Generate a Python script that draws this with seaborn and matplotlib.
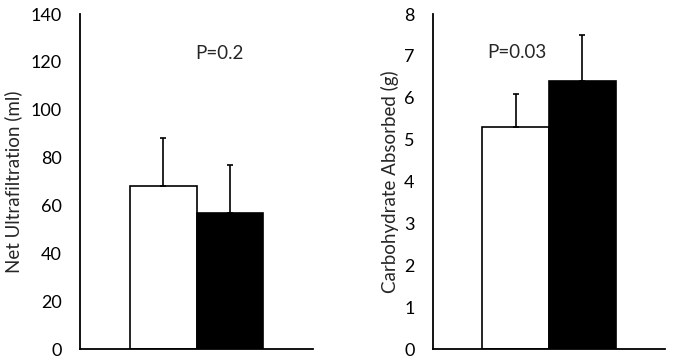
import matplotlib
matplotlib.use('Agg')
import matplotlib.pyplot as plt
import seaborn as sns
import pandas as pd

groups = ['Control', 'Treatment']
bar_colors = ['white', 'black']

uf_means = [68, 57]
uf_errs = [20, 20]

cho_means = [5.3, 6.4]
cho_errs = [0.8, 1.1]

sns.set_style('white')
plt.rcParams['font.family'] = ['Lato', 'DejaVu Sans']
plt.rcParams['font.size'] = 13


def panel(ax, means, errs, ylabel, ymax, ystep, ptext, px, py, label_x):
    df = pd.DataFrame({'cat': [''] * len(groups), 'group': groups, 'value': means})
    sns.barplot(data=df, x='cat', y='value', hue='group', palette=bar_colors,
                width=0.575, edgecolor='black', linewidth=1.2, errorbar=None,
                legend=False, ax=ax)
    bars = sorted(ax.patches, key=lambda p: p.get_x())
    xs = [b.get_x() + b.get_width() / 2 for b in bars]
    ax.errorbar(xs, means, yerr=[[0] * len(errs), errs], fmt='none',
                ecolor='black', elinewidth=1.2, capsize=2.5, capthick=1.2)
    ax.set_xlim(-0.5, 0.5)
    ax.set_ylim(0, ymax)
    ax.set_yticks([i * ystep for i in range(int(round(ymax / ystep)) + 1)])
    ax.set_xticks([-0.5, 0.5])
    ax.set_xticklabels(['', ''])
    ax.set_xlabel('')
    ax.set_ylabel(ylabel, fontsize=13.5)
    ax.yaxis.set_label_coords(label_x, 0.5)
    ax.tick_params(axis='both', direction='in', length=5, width=1.2, colors='black')
    ax.tick_params(axis='y', labelsize=13, pad=13.3)
    for s in ['top', 'right']:
        ax.spines[s].set_visible(False)
    for s in ['left', 'bottom']:
        ax.spines[s].set_linewidth(1.3)
        ax.spines[s].set_color('black')
    ax.text(px, py, ptext, ha='center', va='center', fontsize=13.5)


fig = plt.figure(figsize=(6.74, 3.62), dpi=100)
ax1 = fig.add_axes([0.1187, 0.0359, 0.3457, 0.9254])
ax2 = fig.add_axes([0.6424, 0.0359, 0.3442, 0.9254])

panel(ax1, uf_means, uf_errs, 'Net Ultrafiltration (ml)', 140, 20, 'P=0.2', 0.1, 123.5, -0.249)
panel(ax2, cho_means, cho_errs, 'Carbohydrate Absorbed (g)', 8, 1, 'P=0.03', -0.14, 7.07, -0.147)

fig.savefig('out.png', dpi=100)
